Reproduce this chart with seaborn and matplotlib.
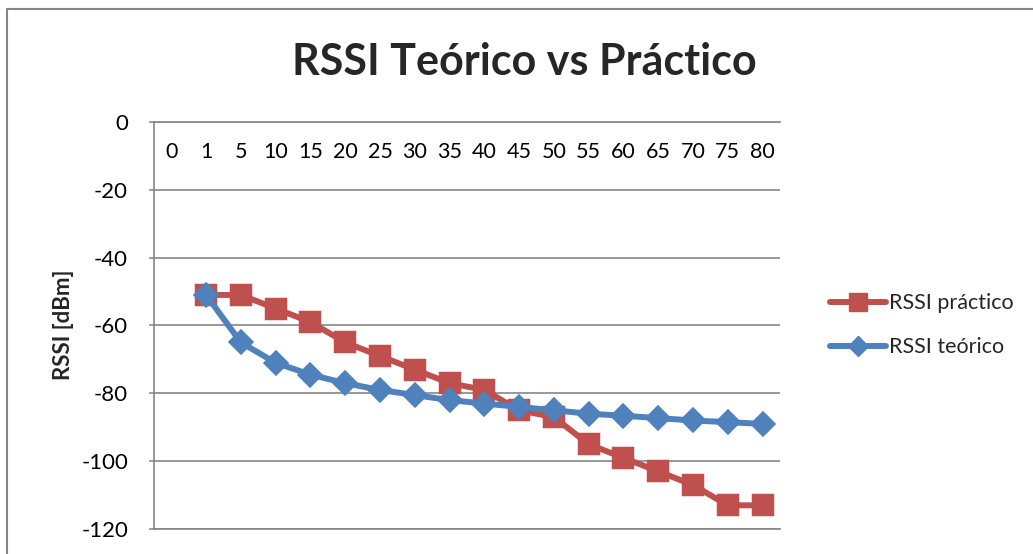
import seaborn as sns
import matplotlib.pyplot as plt
from matplotlib.lines import Line2D
import pandas as pd

sns.set_theme(style="white")
plt.rcParams['font.family'] = ['Lato', 'DejaVu Sans']

# categorias del eje x (distancia) y valores
categorias = [0, 1, 5, 10, 15, 20, 25, 30, 35, 40, 45, 50, 55, 60, 65, 70, 75, 80]
distancias = [1, 5, 10, 15, 20, 25, 30, 35, 40, 45, 50, 55, 60, 65, 70, 75, 80]
rssi_practico = [-51, -51, -55, -59, -65, -69, -73, -77, -79, -85, -87, -95, -99, -103, -107, -113, -113]
rssi_teorico = [-51, -65, -71, -74.5, -77, -79, -80.5, -82, -83, -84, -85, -86, -86.6, -87.3, -88, -88.5, -89]
yticks = [0, -20, -40, -60, -80, -100, -120]

rojo = '#C0504D'
azul = '#4F81BD'
gris = '#868686'

df = pd.DataFrame({'dist': distancias, 'practico': rssi_practico, 'teorico': rssi_teorico})

fig = plt.figure(figsize=(10.33, 5.54), dpi=100)
ax = fig.add_axes([0.149, 0.045, 0.606, 0.735])

sns.pointplot(data=df, x='dist', y='practico', order=categorias, color=rojo,
              markers='s', linestyles='-', markersize=13.5, linewidth=4.3,
              errorbar=None, ax=ax)
sns.pointplot(data=df, x='dist', y='teorico', order=categorias, color=azul,
              markers='D', linestyles='-', markersize=10.2, linewidth=4.3,
              errorbar=None, ax=ax)

ax.set_xlim(-0.5, len(categorias) - 0.5)
ax.set_ylim(-120, 0)
ax.set_yticks(yticks)
ax.set_yticklabels([str(v) for v in yticks])
ax.set_xlabel('')
ax.set_ylabel('')

# eje de categorias arriba, etiquetas debajo de la linea del 0
ax.tick_params(axis='x', top=False, bottom=False, labeltop=True, labelbottom=False,
               pad=-35, labelsize=15.5, colors='black')
ax.tick_params(axis='y', left=True, length=3.6, width=1.1, color=gris, pad=15,
               labelsize=16, labelcolor='black')

ax.yaxis.grid(True, color=gris, linewidth=1.2)
ax.xaxis.grid(False)
for lado in ['left', 'top', 'bottom']:
    ax.spines[lado].set_color(gris)
    ax.spines[lado].set_linewidth(1.2)
ax.spines['right'].set_visible(False)

fig.text(0.508, 0.888, 'RSSI Teórico vs Práctico', ha='center', va='center',
         fontsize=31, fontweight='bold')
fig.text(0.061, 0.413, 'RSSI [dBm]', ha='center', va='center', rotation=90,
         fontsize=16, fontweight='bold')

handles = [
    Line2D([], [], color=rojo, marker='s', markersize=13.5, linewidth=4.3),
    Line2D([], [], color=azul, marker='D', markersize=10.2, linewidth=4.3),
]
fig.legend(handles, ['RSSI práctico', 'RSSI teórico'], loc='center left',
           bbox_to_anchor=(0.785, 0.413), frameon=False, fontsize=15.5,
           handlelength=2.6, handletextpad=0.15, labelspacing=1.1)

# borde del area del grafico
fig.add_artist(Line2D([0.007, 0.007, 1.0], [0.0, 0.983, 0.983],
                      transform=fig.transFigure, color=gris, linewidth=1.5))

fig.savefig('out.png', dpi=100)
